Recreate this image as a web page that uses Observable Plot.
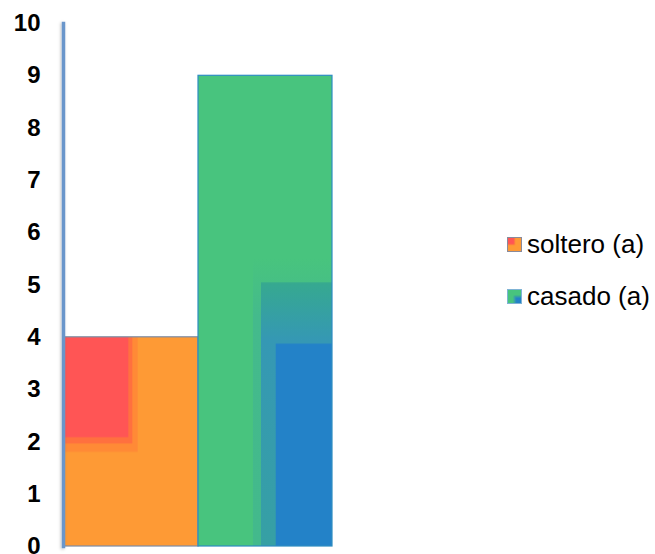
<!DOCTYPE html>
<html>
<head>
<meta charset="utf-8">
<script src="https://cdn.jsdelivr.net/npm/d3@7"></script>
<script src="https://cdn.jsdelivr.net/npm/@observablehq/plot@0.6"></script>
<style>
  html, body { margin: 0; padding: 0; background: #fff; }
  #wrap { position: relative; width: 655px; height: 554px; font-family: Arial, "Liberation Sans", sans-serif; }
  #legend { position: absolute; left: 507px; top: 0; }
  .item { position: absolute; left: 0; display: flex; align-items: center; white-space: nowrap; font-size: 26px; color: #000; }
  .item svg { margin-right: 5px; }
</style>
</head>
<body>
<div id="wrap">
  <svg width="0" height="0" style="position:absolute">
    <defs>
      <linearGradient id="gTeal" x1="0" y1="0" x2="0" y2="1">
        <stop offset="0" stop-color="#36A98F"/>
        <stop offset="0.22" stop-color="#3598B4"/>
        <stop offset="1" stop-color="#36A0A4"/>
      </linearGradient>
      <linearGradient id="gFade" x1="0" y1="0" x2="0" y2="1">
        <stop offset="0" stop-color="#48C47E"/>
        <stop offset="0.2" stop-color="#44BA8C"/>
        <stop offset="1" stop-color="#43B98C"/>
      </linearGradient>
      <pattern id="pSoltero" patternUnits="objectBoundingBox" patternContentUnits="objectBoundingBox" width="1" height="1">
        <rect x="0" y="0" width="1" height="1" fill="#FE9A35"/>
        <rect x="0" y="0" width="0.55" height="0.55" fill="#FF8A36"/>
        <rect x="0" y="0" width="0.51" height="0.51" fill="#FF703F"/>
        <rect x="0" y="0" width="0.48" height="0.48" fill="#FF5555"/>
      </pattern>
      <pattern id="pCasado" patternUnits="objectBoundingBox" patternContentUnits="objectBoundingBox" width="1" height="1">
        <rect x="0" y="0" width="1" height="1" fill="#48C47E"/>
        <rect x="0.41" y="0.39" width="0.59" height="0.61" fill="url(#gFade)"/>
        <rect x="0.47" y="0.44" width="0.53" height="0.56" fill="url(#gTeal)"/>
        <rect x="0.58" y="0.57" width="0.42" height="0.43" fill="#2382C8"/>
      </pattern>
      <filter id="shadow" filterUnits="userSpaceOnUse" x="0" y="0" width="655" height="554">
        <feDropShadow dx="-1" dy="1" stdDeviation="1.5" flood-color="#000" flood-opacity="0.25"/>
      </filter>
    </defs>
  </svg>
  <div id="chart"></div>
  <div id="legend"></div>
</div>
<script>
const categories = ["soltero (a)", "casado (a)"];
const values = [4, 9];
const yTicks = [0, 1, 2, 3, 4, 5, 6, 7, 8, 9, 10];

const fillFor = {"soltero (a)": "url(#pSoltero)", "casado (a)": "url(#pCasado)"};
const strokeFor = {"soltero (a)": "#7D8DA6", "casado (a)": "#2E8DC2"};

const data = categories.map((c, i) => ({cat: c, value: values[i]}));

const chart = Plot.plot({
  width: 655,
  height: 554,
  marginLeft: 64,
  marginRight: 323,
  marginTop: 23,
  marginBottom: 8,
  style: {fontFamily: 'Arial, "Liberation Sans", sans-serif', background: "transparent", overflow: "visible"},
  x: {domain: categories, padding: 0, axis: null},
  y: {domain: [0, 10], axis: null},
  color: {type: "identity"},
  marks: [
    Plot.barY(data, {x: "cat", y: "value", fill: d => fillFor[d.cat], stroke: d => strokeFor[d.cat], strokeWidth: 1.2}),
    Plot.frame({anchor: "left", stroke: "#6B96CB", strokeWidth: 3.5, dx: -1, className: "yline"}),
    Plot.axisY(yTicks, {tickSize: 0, tickPadding: 24, label: null, fill: "#000", fontSize: 24, fontWeight: "bold", tickFormat: d => String(d)})
  ]
});
chart.querySelectorAll(".yline").forEach(g => g.setAttribute("filter", "url(#shadow)"));
document.getElementById("chart").appendChild(chart);

const legend = document.getElementById("legend");
const legendTops = [244, 296];
categories.forEach((c, i) => {
  const item = document.createElement("div");
  item.className = "item";
  item.style.top = (legendTops[i] - 15) + "px";
  item.style.height = "30px";
  item.innerHTML = `<svg width="15" height="15"><rect x="0.5" y="0.5" width="14" height="14" fill="${fillFor[c]}" stroke="${i === 0 ? '#8a8a9a' : '#7fb3d5'}"/></svg><span>${c}</span>`;
  legend.appendChild(item);
});
</script>
</body>
</html>
